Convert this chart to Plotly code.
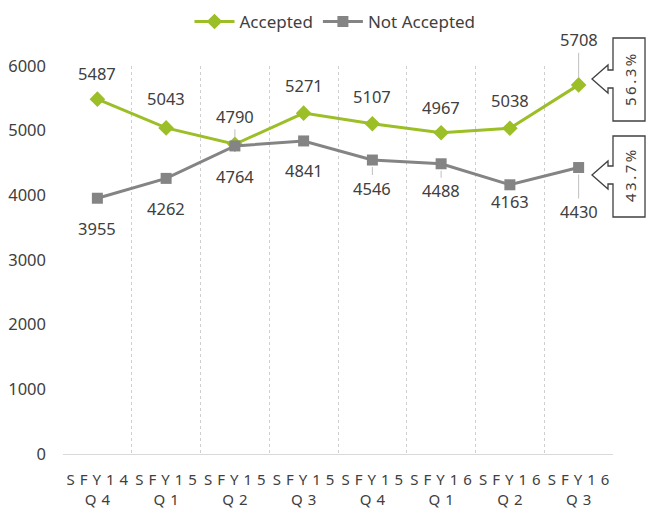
import plotly.graph_objects as go

# quarters and counts
quarters = ["SFY14 Q4", "SFY15 Q1", "SFY15 Q2", "SFY15 Q3",
            "SFY15 Q4", "SFY16 Q1", "SFY16 Q2", "SFY16 Q3"]
accepted = [5487, 5043, 4790, 5271, 5107, 4967, 5038, 5708]
not_accepted = [3955, 4262, 4764, 4841, 4546, 4488, 4163, 4430]

green = "#9CBE27"
grey = "#848484"
txt = "#404040"
font = "Noto Sans"

# label offsets in pixels (negative = above) and whether a leader line is drawn
acc_off = [-26, -29, -28, -28, -27, -25, -28, -45]
acc_lead = [False, False, True, False, False, False, False, True]
nacc_off = [30, 30, 31, 30, 28, 27, 17, 44]
nacc_lead = [False, False, False, False, True, True, False, True]


def spaced(label):
    # Excel style letter spacing on the category labels
    top, bottom = label.split(" ")
    return "\u2004".join(top) + "<br>" + "\u2004".join(bottom)


x = list(range(len(quarters)))

fig = go.Figure()
fig.add_trace(go.Scatter(
    x=x, y=accepted, name="Accepted", mode="lines+markers",
    line=dict(color=green, width=3),
    marker=dict(symbol="diamond", size=12, color=green)))
fig.add_trace(go.Scatter(
    x=x, y=not_accepted, name="Not Accepted", mode="lines+markers",
    line=dict(color=grey, width=3),
    marker=dict(symbol="square", size=11, color=grey)))

annotations = []
for series, offs, leads in [(accepted, acc_off, acc_lead), (not_accepted, nacc_off, nacc_lead)]:
    for i, v in enumerate(series):
        a = dict(x=i, y=v, text=str(v), font=dict(family=font, size=16.5, color=txt))
        if leads[i]:
            a.update(showarrow=True, ax=0, ay=offs[i], arrowhead=0, arrowwidth=1,
                     arrowcolor="#BFBFBF", standoff=7)
        else:
            a.update(showarrow=False, yshift=-offs[i])
        annotations.append(a)

# share of the last quarter, shown in the callouts on the right
total = accepted[-1] + not_accepted[-1]
share_acc = accepted[-1] / total * 100
share_nacc = not_accepted[-1] / total * 100

W, H = 647, 508
L, T = 63, 66
R, B = W - 613, H - 454
pw, ph = W - L - R, H - T - B


def px(xp, yp):
    # window pixel -> paper coordinates
    return (xp - L) / pw, (H - B - yp) / ph


def callout(top, bot, tip, sh0, sh1, hd0, hd1):
    pts = [(613, top), (645, top), (645, bot), (613, bot), (613, sh1), (608, sh1),
           (608, hd1), (592, tip), (608, hd0), (608, sh0), (613, sh0)]
    p = [px(a, b) for a, b in pts]
    return "M " + " L ".join(f"{a:.4f},{b:.4f}" for a, b in p) + " Z"


shapes = [
    dict(type="path", xref="paper", yref="paper", path=callout(38, 121, 79, 70, 88, 65, 93),
         line=dict(color="#404040", width=1.3), fillcolor="white"),
    dict(type="path", xref="paper", yref="paper", path=callout(136, 217, 175, 166, 184, 161, 189),
         line=dict(color="#404040", width=1.3), fillcolor="white"),
]

for label, yp in [(f"{share_acc:.1f}%", 80), (f"{share_nacc:.1f}%", 176)]:
    xa, ya = px(630, yp)
    annotations.append(dict(x=xa, y=ya, xref="paper", yref="paper", text="\u2009".join(label),
                            textangle=-90, xanchor="center", yanchor="middle", showarrow=False,
                            font=dict(family=font, size=15, color=txt)))

bounds = [i - 0.5 for i in range(len(quarters) + 1)]
lx, ly = px(335, 22)

fig.update_layout(
    width=W, height=H,
    margin=dict(l=L, r=R, t=T, b=B, autoexpand=False),
    paper_bgcolor="white", plot_bgcolor="white",
    font=dict(family=font, size=16, color=txt),
    showlegend=True,
    legend=dict(orientation="h", x=lx, xanchor="center", y=ly, yanchor="middle",
                font=dict(size=17, color=txt), itemwidth=40, traceorder="normal"),
    xaxis=dict(range=[-0.5, len(quarters) - 0.5], tickvals=x,
               ticktext=[spaced(q) for q in quarters], showgrid=False, zeroline=False,
               showline=True, linecolor="#D9D9D9", linewidth=1, ticks="",
               tickfont=dict(size=15, color=txt), automargin=False, ticklabelstandoff=12,
               minor=dict(tickvals=bounds, showgrid=True, gridcolor="#CFCFCF",
                          griddash="dot", gridwidth=1, ticks="")),
    yaxis=dict(range=[0, 6000], tickvals=[0, 1000, 2000, 3000, 4000, 5000, 6000],
               showgrid=False, zeroline=False, showline=False, ticks="", automargin=False,
               ticklabelstandoff=16, tickfont=dict(size=16.5, color=txt)),
    annotations=annotations,
    shapes=shapes,
)

# drop the default 8px body margin so the figure fills the window exactly
fig.write_html("out.html", config={"displayModeBar": False},
               post_script="document.body.style.margin='0';"
                           "document.body.style.overflow='hidden';")
